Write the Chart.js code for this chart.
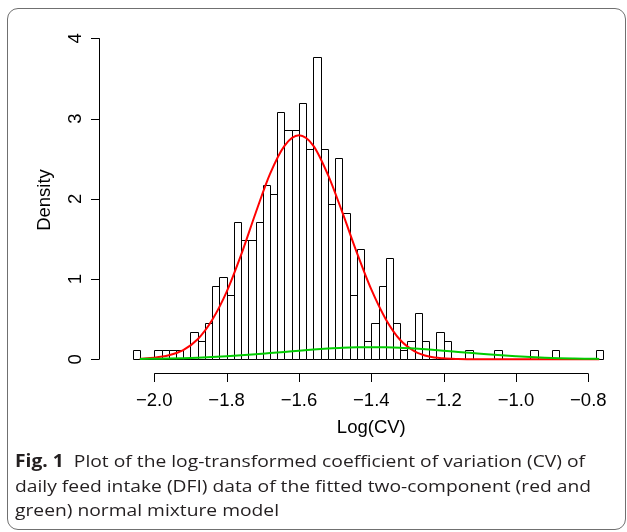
<!DOCTYPE html>
<html>
<head>
<meta charset="utf-8">
<script src="https://cdn.jsdelivr.net/npm/chart.js@4.4.1/dist/chart.umd.min.js"></script>
<style>
  html, body { margin: 0; padding: 0; background: #fff; overflow: hidden; }
  #wrap { position: relative; width: 627px; height: 532px; }
  #frame {
    position: absolute; left: 7px; top: 8px; width: 619px; height: 522px;
    border: 1.3px solid #707070; border-radius: 11px; box-sizing: border-box;
  }
  #hist { position: absolute; left: 0; top: 0; }
  .cap {
    position: absolute; left: 15px; font-family: "Open Sans", sans-serif;
    font-size: 17px; color: #231f20; white-space: nowrap; transform-origin: 0 0;
    line-height: 1;
  }
  .cap b { font-weight: 700; }
</style>
</head>
<body>
<div id="wrap">
  <div id="frame"></div>
  <canvas id="hist" width="627" height="532"></canvas>
  <div class="cap" id="cap1" style="top:452px"><b>Fig. 1</b>&nbsp; Plot of the log-transformed coefficient of variation (CV) of</div>
  <div class="cap" id="cap2" style="top:477px">daily feed intake (DFI) data of the fitted two-component (red and</div>
  <div class="cap" id="cap3" style="top:501px">green) normal mixture model</div>
</div>
<script>
// histogram of log(CV): breaks every 0.02 starting at -2.06
const binStart = -2.06;
const binWidth = 0.02;
const histDensity = [
  0.114, 0, 0, 0.114, 0.114, 0.114, 0.114, 0, 0.342, 0.228,
  0.457, 0.913, 1.027, 0.799, 1.712, 1.484, 1.484, 1.712, 2.169, 2.055,
  3.082, 2.854, 2.854, 3.196, 2.626, 3.767, 2.626, 1.941, 2.511, 1.826,
  0.799, 1.370, 0.228, 0.457, 0.913, 1.256, 0.457, 0.114, 0.228, 0.571,
  0.228, 0, 0.342, 0.228, 0, 0, 0.114, 0, 0, 0,
  0.114, 0, 0, 0, 0, 0.114, 0, 0, 0.114, 0,
  0, 0, 0, 0, 0.114,
];

// fitted mixture components, evaluated along the data range
const curveX = [
  -2.04, -2.00, -1.96, -1.92, -1.88, -1.84, -1.80, -1.76, -1.72, -1.68,
  -1.64, -1.60, -1.56, -1.52, -1.48, -1.44, -1.40, -1.36, -1.32, -1.28,
  -1.24, -1.20, -1.16, -1.12, -1.08, -1.04, -1.00, -0.96, -0.92, -0.88,
  -0.84, -0.80, -0.77,
];
const redDensity = [
  0.008, 0.02, 0.05, 0.115, 0.25, 0.49, 0.84, 1.30, 1.82, 2.31,
  2.66, 2.79, 2.66, 2.30, 1.83, 1.33, 0.87, 0.50, 0.24, 0.10,
  0.035, 0.012, 0.004, 0.001, 0, 0, 0, 0, 0, 0,
  0, 0, 0,
];
const greenDensity = [
  0.004, 0.007, 0.010, 0.014, 0.020, 0.028, 0.038, 0.049, 0.062, 0.077,
  0.092, 0.107, 0.121, 0.133, 0.143, 0.149, 0.151, 0.149, 0.143, 0.133,
  0.121, 0.107, 0.092, 0.077, 0.062, 0.049, 0.038, 0.028, 0.020, 0.014,
  0.010, 0.007, 0.005,
];

const xTicks = [-2.0, -1.8, -1.6, -1.4, -1.2, -1.0, -0.8];
const xTickLabels = ["\u22122.0", "\u22121.8", "\u22121.6", "\u22121.4", "\u22121.2", "\u22121.0", "\u22120.8"];
const yTicks = [0, 1, 2, 3, 4];
const yTickLabels = ["0", "1", "2", "3", "4"];

const AXIS_FONT = "18.5px 'Liberation Sans', Arial, sans-serif";
const HIST_INDEX = 2;

const snap = (v) => Math.round(v) + 0.5;

// hist()-style cells: one shared 1px line between neighbouring bins
const histOutline = {
  id: "histOutline",
  afterDatasetDraw(chart, args) {
    if (args.index !== HIST_INDEX) return;
    const { ctx } = chart;
    ctx.save();
    ctx.strokeStyle = "#000";
    ctx.lineWidth = 1;
    ctx.beginPath();
    args.meta.data.forEach((bar) => {
      const { x, y, base, width } = bar.getProps(["x", "y", "base", "width"], true);
      const l = snap(x - width / 2);
      const r = snap(x + width / 2);
      const t = snap(y);
      const b = snap(base);
      ctx.moveTo(l, b);
      ctx.lineTo(l, t);
      ctx.lineTo(r, t);
      ctx.lineTo(r, b);
      ctx.lineTo(l, b);
    });
    ctx.stroke();
    ctx.restore();
  },
};

// base-graphics style axes: detached lines that only span the tick range
const rAxes = {
  id: "rAxes",
  afterDraw(chart) {
    const { ctx, chartArea, scales: { x, y } } = chart;
    const axY = snap(chartArea.bottom);
    const axX = snap(chartArea.left);
    const tick = 8.5;
    ctx.save();
    ctx.strokeStyle = "#000";
    ctx.fillStyle = "#000";
    ctx.lineWidth = 1;
    ctx.font = AXIS_FONT;

    // x axis
    ctx.beginPath();
    ctx.moveTo(x.getPixelForValue(xTicks[0]), axY);
    ctx.lineTo(x.getPixelForValue(xTicks[xTicks.length - 1]), axY);
    xTicks.forEach((v) => {
      const px = snap(x.getPixelForValue(v));
      ctx.moveTo(px, axY);
      ctx.lineTo(px, axY + tick);
    });
    ctx.stroke();
    ctx.textAlign = "center";
    ctx.textBaseline = "alphabetic";
    xTicks.forEach((v, i) => {
      ctx.fillText(xTickLabels[i], x.getPixelForValue(v), axY + 32);
    });
    const midX = (x.getPixelForValue(xTicks[0]) + x.getPixelForValue(xTicks[xTicks.length - 1])) / 2;
    ctx.fillText("Log(CV)", midX, axY + 59);

    // y axis, labels parallel to the axis
    ctx.beginPath();
    ctx.moveTo(axX, y.getPixelForValue(yTicks[0]));
    ctx.lineTo(axX, y.getPixelForValue(yTicks[yTicks.length - 1]));
    yTicks.forEach((v) => {
      const py = snap(y.getPixelForValue(v));
      ctx.moveTo(axX, py);
      ctx.lineTo(axX - tick, py);
    });
    ctx.stroke();
    yTicks.forEach((v, i) => {
      ctx.save();
      ctx.translate(axX - 18.5, y.getPixelForValue(v));
      ctx.rotate(-Math.PI / 2);
      ctx.fillText(yTickLabels[i], 0, 0);
      ctx.restore();
    });
    ctx.save();
    ctx.translate(axX - 50, (chartArea.top + chartArea.bottom) / 2);
    ctx.rotate(-Math.PI / 2);
    ctx.fillText("Density", 0, 0);
    ctx.restore();
    ctx.restore();
  },
};

new Chart(document.getElementById("hist"), {
  type: "bar",
  data: {
    datasets: [
      {
        type: "line",
        label: "Component 2",
        data: curveX.map((v, i) => ({ x: v, y: greenDensity[i] })),
        borderColor: "#00cd00",
        borderWidth: 2,
        pointRadius: 0,
        cubicInterpolationMode: "monotone",
        order: 0,
      },
      {
        type: "line",
        label: "Component 1",
        data: curveX.map((v, i) => ({ x: v, y: redDensity[i] })),
        borderColor: "#ff0000",
        borderWidth: 2,
        pointRadius: 0,
        cubicInterpolationMode: "monotone",
        order: 1,
      },
      {
        type: "bar",
        label: "Density",
        data: histDensity.map((d, i) => ({ x: binStart + binWidth * (i + 0.5), y: d })),
        backgroundColor: "rgba(255,255,255,0)",
        borderWidth: 0,
        inflateAmount: 0,
        barPercentage: 1,
        categoryPercentage: 1,
        order: 2,
      },
    ],
  },
  options: {
    responsive: false,
    animation: false,
    devicePixelRatio: 1,
    layout: { padding: { left: 99.3, right: 2.5, top: 26.7, bottom: 158.7 } },
    plugins: { legend: { display: false }, tooltip: { enabled: false } },
    scales: {
      x: { type: "linear", min: -2.152, max: -0.70, offset: false, display: false },
      y: { type: "linear", min: -0.1745, max: 4.144, display: false },
    },
  },
  plugins: [histOutline, rAxes],
});

// squeeze the caption to the column width of the figure
const cap1 = document.getElementById("cap1");
const k = 570 / cap1.getBoundingClientRect().width;
document.querySelectorAll(".cap").forEach((el) => {
  el.style.transform = "scaleX(" + k.toFixed(4) + ")";
});
</script>
</body>
</html>
